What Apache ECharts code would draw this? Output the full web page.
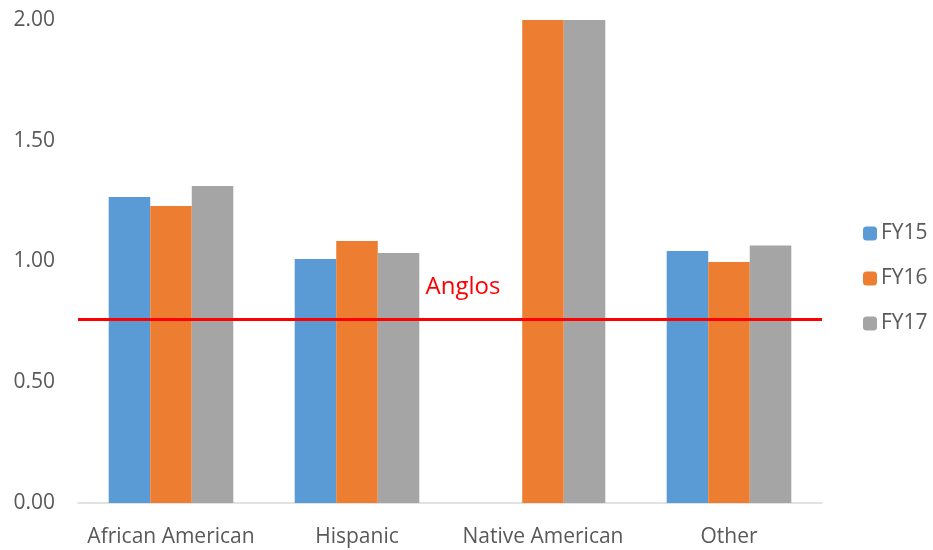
<!DOCTYPE html>
<html><head><meta charset="utf-8">
<script src="https://cdn.jsdelivr.net/npm/echarts@6/dist/echarts.min.js"></script>
<style>html,body{margin:0;padding:0;background:#fff}#c{width:933px;height:550px}</style>
</head><body><div id="c"></div>
<script>
const categories = ['African American', 'Hispanic', 'Native American', 'Other'];
const fy15 = [1.267, 1.01, null, 1.043];
const fy16 = [1.23, 1.085, 2.0, 0.998];
const fy17 = [1.313, 1.035, 2.0, 1.066];
const angloValue = 0.76;
const yTicks = { min: 0, max: 2, interval: 0.5 };

const chart = echarts.init(document.getElementById('c'), null, { renderer: 'canvas' });
const font = '"Open Sans", "Liberation Sans", sans-serif';
const txt = '#595959';
chart.setOption({
  animation: false,
  textStyle: { fontFamily: font },
  grid: { left: 78, right: 111, top: 20, bottom: 47 },
  legend: {
    orient: 'vertical', left: 863, top: 223, padding: 0, itemWidth: 14, itemHeight: 14, itemGap: 24,
    textStyle: { fontSize: 21, color: txt, fontFamily: font, padding: [0, 0, 0, -1] },
    data: ['FY15', 'FY16', 'FY17']
  },
  xAxis: {
    type: 'category', data: categories,
    axisLine: { lineStyle: { color: '#d9d9d9', width: 1.5 } },
    axisTick: { show: false },
    axisLabel: { fontSize: 21, color: txt, margin: 24, interval: 0, fontFamily: font }
  },
  yAxis: {
    type: 'value', min: yTicks.min, max: yTicks.max, interval: yTicks.interval,
    splitLine: { show: false },
    axisLine: { show: false }, axisTick: { show: false },
    axisLabel: { fontSize: 21, color: txt, margin: 23, fontFamily: font, formatter: v => v.toFixed(2) }
  },
  series: [
    { name: 'FY15', type: 'bar', data: fy15, barGap: '0%', barCategoryGap: '33%',
      itemStyle: { color: '#5b9bd5' } },
    { name: 'FY16', type: 'bar', data: fy16, barGap: '0%', barCategoryGap: '33%',
      itemStyle: { color: '#ed7d31' } },
    { name: 'FY17', type: 'bar', data: fy17, barGap: '0%', barCategoryGap: '33%',
      itemStyle: { color: '#a5a5a5' },
      markLine: {
        silent: true, symbol: 'none',
        lineStyle: { color: '#ff0000', width: 3, type: 'solid' },
        label: { show: true, position: 'insideMiddleTop', formatter: 'Anglos', color: '#ff0000',
                 fontSize: 24, fontFamily: font, distance: 20, offset: [13, 0] },
        data: [{ yAxis: angloValue }]
      }
    }
  ]
});
</script></body></html>
